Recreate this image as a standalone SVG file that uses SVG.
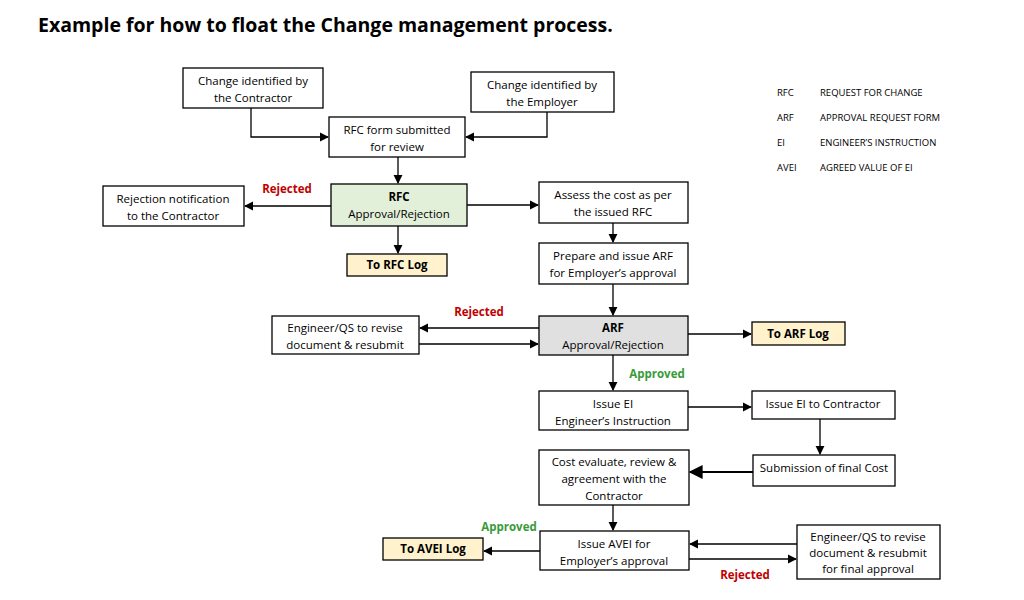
<svg xmlns="http://www.w3.org/2000/svg" width="1024" height="600" viewBox="0 0 1024 600">
<defs>
<marker id="ah" viewBox="0 0 10 10" refX="9" refY="5" markerWidth="7" markerHeight="7" orient="auto"><path d="M0,0L10,5L0,10z" fill="#000"/></marker>
<style>
.b{fill:#fff;stroke:#000;stroke-width:1.3}
.g{fill:#e2efd9}.gr{fill:#e0e0e0}.y{fill:#fff2cc}
text{font-family:"Open Sans","Liberation Sans",sans-serif;font-size:11.5px;fill:#000;text-anchor:middle}
.bd{font-weight:bold}
.r{fill:#c00000;font-weight:bold}.gn{fill:#3a9a3a;font-weight:bold}
.lg{text-anchor:start;font-size:9.5px}
.c{fill:none;stroke:#000;stroke-width:1.3;marker-end:url(#ah)}
</style>
</defs>
<rect width="1024" height="600" fill="#fff"/>
<text x="38" y="32" style="font-size:19.5px;font-weight:bold;text-anchor:start">Example for how to float the Change management process.</text>
<g id="legend">
<text class="lg" x="777" y="96">RFC</text><text class="lg" x="820" y="96">REQUEST FOR CHANGE</text>
<text class="lg" x="777" y="121">ARF</text><text class="lg" x="820" y="121">APPROVAL REQUEST FORM</text>
<text class="lg" x="777" y="146">EI</text><text class="lg" x="820" y="146">ENGINEER’S INSTRUCTION</text>
<text class="lg" x="777" y="171">AVEI</text><text class="lg" x="820" y="171">AGREED VALUE OF EI</text>
</g>
<g id="connectors">
<path class="c" d="M251,108V137H328"/>
<path class="c" d="M547,112V137H466"/>
<path class="c" d="M398,157V183"/>
<path class="c" d="M331,206H245"/>
<path class="c" d="M467,205H538"/>
<path class="c" d="M398,226V253"/>
<path class="c" d="M613,223V242"/>
<path class="c" d="M613,284V315"/>
<path class="c" d="M539,328H420"/>
<path class="c" d="M419,344H538"/>
<path class="c" d="M688,334H751"/>
<path class="c" d="M613,355V390"/>
<path class="c" d="M688,407H751"/>
<path class="c" d="M820,419V454"/>
<path class="c" d="M753,472H690" style="stroke-width:2"/>
<path class="c" d="M613,505V530"/>
<path class="c" d="M540,551H484"/>
<path class="c" d="M797,544H690"/>
<path class="c" d="M689,559H796"/>
<text class="r" x="287" y="193">Rejected</text>
<text class="r" x="479" y="316">Rejected</text>
<text class="gn" x="657" y="378">Approved</text>
<text class="gn" x="509" y="531">Approved</text>
<text class="r" x="745" y="579">Rejected</text>
</g>
<g id="n1"><rect class="b" x="183" y="68" width="140" height="40"/><text x="253" y="85">Change identified by</text><text x="253" y="102">the Contractor</text></g>
<g id="n2"><rect class="b" x="471" y="72" width="143" height="40"/><text x="542" y="89">Change identified by</text><text x="542" y="106">the Employer</text></g>
<g id="n3"><rect class="b" x="329" y="117" width="136" height="40"/><text x="397" y="134">RFC form submitted</text><text x="397" y="151">for review</text></g>
<g id="n4"><rect class="b" x="103" y="186" width="141" height="40"/><text x="173" y="203">Rejection notification</text><text x="173" y="220">to the Contractor</text></g>
<g id="n5"><rect class="b g" x="331" y="184" width="136" height="42"/><text class="bd" x="399" y="201">RFC</text><text x="399" y="218">Approval/Rejection</text></g>
<g id="n6"><rect class="b y" x="347" y="254" width="100" height="22"/><text class="bd" x="397" y="269">To RFC Log</text></g>
<g id="n7"><rect class="b" x="539" y="182" width="149" height="41"/><text x="613" y="199">Assess the cost as per</text><text x="613" y="216">the issued RFC</text></g>
<g id="n8"><rect class="b" x="539" y="243" width="149" height="41"/><text x="613" y="260">Prepare and issue ARF</text><text x="613" y="277">for Employer’s approval</text></g>
<g id="n9"><rect class="b" x="272" y="316" width="147" height="38"/><text x="345" y="332">Engineer/QS to revise</text><text x="345" y="349">document &amp; resubmit</text></g>
<g id="n10"><rect class="b gr" x="539" y="316" width="149" height="39"/><text class="bd" x="613" y="332">ARF</text><text x="613" y="349">Approval/Rejection</text></g>
<g id="n11"><rect class="b y" x="752" y="322" width="93" height="23"/><text class="bd" x="798" y="338">To ARF Log</text></g>
<g id="n12"><rect class="b" x="539" y="391" width="149" height="39"/><text x="613" y="408">Issue EI</text><text x="613" y="425">Engineer’s Instruction</text></g>
<g id="n13"><rect class="b" x="752" y="391" width="143" height="28"/><text x="823" y="408">Issue EI to Contractor</text></g>
<g id="n14"><rect class="b" x="539" y="450" width="150" height="55"/><text x="614" y="466">Cost evaluate, review &amp;</text><text x="614" y="483">agreement with the</text><text x="614" y="500">Contractor</text></g>
<g id="n15"><rect class="b" x="753" y="455" width="142" height="31"/><text x="824" y="472">Submission of final Cost</text></g>
<g id="n16"><rect class="b" x="540" y="531" width="149" height="39"/><text x="614" y="548">Issue AVEI for</text><text x="614" y="565">Employer’s approval</text></g>
<g id="n17"><rect class="b y" x="383" y="538" width="100" height="22"/><text class="bd" x="433" y="553">To AVEI Log</text></g>
<g id="n18"><rect class="b" x="797" y="525" width="143" height="54"/><text x="868" y="541">Engineer/QS to revise</text><text x="868" y="557">document &amp; resubmit</text><text x="868" y="573">for final approval</text></g>
</svg>
